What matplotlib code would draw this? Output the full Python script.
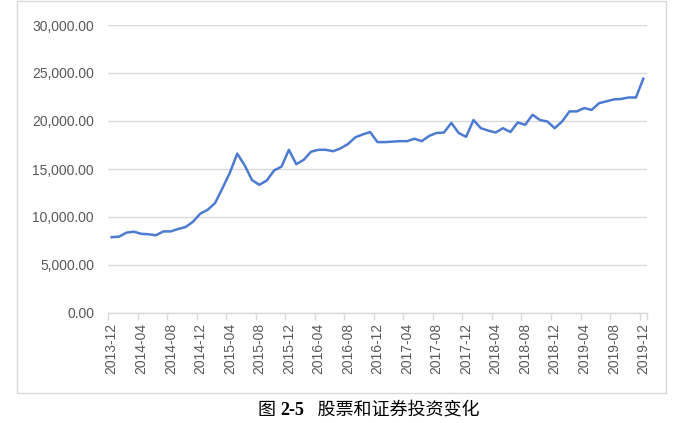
import matplotlib
matplotlib.use("Agg")
import matplotlib.pyplot as plt
from matplotlib.patches import Rectangle
from matplotlib.ticker import FuncFormatter, FixedLocator

# ---- data ----
start_year, start_month = 2013, 12
n_points = 73
months = []
y, m = start_year, start_month
for _ in range(n_points):
    months.append(f"{y}-{m:02d}")
    m += 1
    if m > 12:
        m = 1
        y += 1

values = [7900, 7950, 8370, 8470, 8250, 8200, 8100, 8500, 8500, 8750,
          8950, 9500, 10350, 10750, 11450, 13000, 14600, 16600, 15400, 13850,
          13350, 13800, 14850, 15250, 17000, 15500, 15950, 16800, 17000, 17000,
          16850, 17150, 17600, 18300, 18600, 18850, 17800, 17800, 17850, 17900,
          17900, 18150, 17900, 18450, 18750, 18800, 19800, 18750, 18350, 20100,
          19250, 19000, 18800, 19250, 18850, 19850, 19600, 20650, 20100, 19950,
          19250, 19950, 21000, 21000, 21350, 21150, 21850, 22050, 22250, 22300,
          22450, 22450, 24400]

y_ticks = [0, 5000, 10000, 15000, 20000, 25000, 30000]
caption_prefix = "图 "
caption_num = "2-5"
caption_title = "   股票和证券投资变化"

# ---- figure ----
W, H = 675, 423
fig = plt.figure(figsize=(W / 100, H / 100), dpi=100)

# chart border
fig.patches.append(Rectangle((17 / W, 1 - 393 / H), (666 - 17) / W, (393 - 1) / H,
                             transform=fig.transFigure, fill=False,
                             edgecolor="#d9d9d9", linewidth=1.0))

ax = fig.add_axes([108 / W, 1 - 313 / H, (647 - 108) / W, (313 - 25) / H])
x = list(range(len(values)))
ax.plot(x, values, color="#4d7bd1", linewidth=1.8, solid_joinstyle="round")

ax.set_xlim(-0.5, len(values) - 0.5)
ax.set_ylim(0, 30000)
ax.set_yticks(y_ticks)
ax.yaxis.set_major_formatter(FuncFormatter(lambda v, p: f"{v:,.2f}"))
ax.grid(axis="y", color="#d9d9d9", linewidth=1.0)
ax.set_axisbelow(True)

label_idx = list(range(0, len(values), 4))
ax.set_xticks(label_idx)
ax.set_xticklabels([months[i] for i in label_idx], rotation=90)
ax.xaxis.set_minor_locator(FixedLocator([i - 0.5 for i in label_idx] + [len(values) - 0.5]))
ax.tick_params(axis="x", which="major", length=0, pad=7, labelsize=10, labelcolor="#595959")
ax.tick_params(axis="x", which="minor", length=5, color="#d9d9d9", width=1.0)
ax.tick_params(axis="y", length=0, pad=10, labelsize=10, labelcolor="#595959")
for lab in ax.get_xticklabels() + ax.get_yticklabels():
    lab.set_fontfamily("Liberation Sans")

for s in ["top", "right", "left"]:
    ax.spines[s].set_visible(False)
ax.spines["bottom"].set_color("#d9d9d9")
ax.spines["bottom"].set_linewidth(1.0)

# caption
fam = ["Liberation Serif", "Noto Sans CJK SC"]
cy = 1 - 410 / H
fig.canvas.draw()
r = fig.canvas.get_renderer()
parts = [(caption_prefix, "normal"), (caption_num, "bold"), (caption_title, "normal")]
texts = []
for s, w in parts:
    t = fig.text(0, cy, s, family=fam, fontsize=13, fontweight=w, va="center", ha="left")
    texts.append(t)
widths = [t.get_window_extent(r).width for t in texts]
total = sum(widths)
xpos = 369 - total / 2
for t, w in zip(texts, widths):
    t.set_x(xpos / W)
    xpos += w

fig.savefig("out.png", dpi=100)
